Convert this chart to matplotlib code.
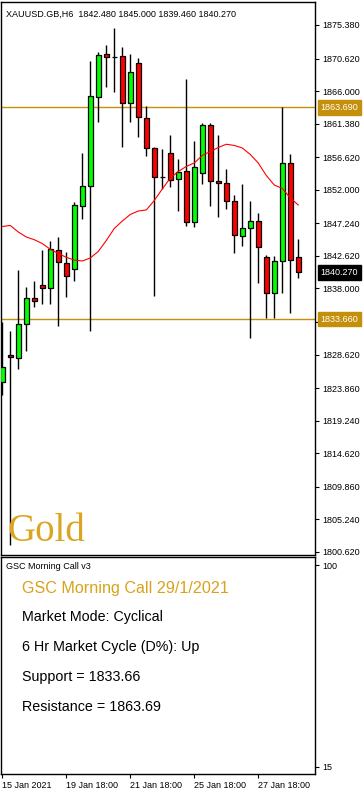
import matplotlib
matplotlib.use('Agg')
import matplotlib.pyplot as plt
import matplotlib.transforms as mtransforms

# ---------------- data ----------------
opens = [1824.69, 1828.57, 1828.10, 1832.92, 1836.61, 1838.45, 1838.03, 1843.50, 1841.66, 1840.72,
         1849.75, 1852.50, 1865.21, 1871.27, 1870.88, 1870.94, 1864.27, 1869.95, 1862.14, 1857.89,
         1853.86, 1857.18, 1853.49, 1854.67, 1847.39, 1854.34, 1861.15, 1853.21, 1852.92, 1850.37,
         1845.40, 1846.54, 1847.53, 1842.42, 1837.32, 1841.86, 1855.76, 1842.48]
highs = [1833.29, 1831.97, 1840.62, 1838.25, 1839.06, 1843.46, 1844.74, 1845.26, 1843.13, 1850.27,
         1857.18, 1870.27, 1871.51, 1872.54, 1874.95, 1872.22, 1871.22, 1870.66, 1863.93, 1858.12,
         1857.79, 1859.78, 1856.37, 1867.72, 1858.92, 1861.52, 1861.52, 1859.78, 1854.95, 1851.26,
         1852.82, 1850.41, 1848.67, 1842.71, 1842.57, 1863.79, 1857.04, 1845.00]
lows = [1822.89, 1801.61, 1826.54, 1829.17, 1835.42, 1835.76, 1835.80, 1832.72, 1836.75, 1839.11,
        1847.86, 1832.01, 1861.66, 1866.63, 1865.92, 1858.12, 1861.66, 1859.53, 1856.84, 1836.98,
        1852.07, 1852.44, 1849.04, 1846.91, 1846.77, 1852.82, 1849.75, 1848.18, 1849.23, 1842.99,
        1844.07, 1830.93, 1838.82, 1833.86, 1833.86, 1837.32, 1834.57, 1839.46]
closes = [1826.82, 1828.24, 1832.96, 1836.61, 1836.23, 1838.07, 1843.65, 1841.72, 1839.82, 1849.80,
          1852.50, 1865.27, 1871.12, 1870.80, 1870.88, 1864.27, 1868.67, 1862.29, 1857.89, 1853.77,
          1853.86, 1853.39, 1854.57, 1847.39, 1855.19, 1861.15, 1853.21, 1852.92, 1850.37, 1845.55,
          1846.54, 1847.53, 1843.84, 1837.32, 1841.86, 1855.76, 1842.00, 1840.27]
ma = [1846.79, 1846.94, 1846.01, 1845.30, 1844.92, 1844.37, 1843.56, 1842.96, 1842.42, 1842.03,
      1841.90, 1842.33, 1843.25, 1844.81, 1846.51, 1847.57, 1848.50, 1848.99, 1849.14, 1850.48,
      1852.11, 1853.67, 1854.60, 1855.31, 1855.80, 1856.87, 1857.43, 1858.00, 1858.46, 1858.29,
      1857.93, 1857.01, 1855.80, 1854.03, 1852.68, 1852.19, 1850.84, 1849.84]

support = 1833.66
resistance = 1863.69
last_price = 1840.27

price_ticks = [1875.380, 1870.620, 1866.000, 1861.380, 1856.620, 1852.000, 1847.240, 1842.620,
               1838.000, 1833.240, 1828.620, 1823.860, 1819.240, 1814.620, 1809.860, 1805.240, 1800.620]
hidden_tick = 1833.240   # covered by the support price box in the reference
date_tick_bars = [0, 8, 16, 24, 32]
date_labels = ['15 Jan 2021', '19 Jan 18:00', '21 Jan 18:00', '25 Jan 18:00', '27 Jan 18:00']
osc_ticks = [100, 15]

title = 'XAUUSD.GB,H6  1842.480 1845.000 1839.460 1840.270'
info_title = 'GSC Morning Call 29/1/2021'
info_lines = ['Market Mode: Cyclical', '6 Hr Market Cycle (D%): Up',
              'Support = 1833.66', 'Resistance = 1863.69']

# ---------------- style ----------------
SMALL = 6.5
SANS = ['Liberation Sans', 'DejaVu Sans']
GOLDLINE = '#C4900C'
plt.rcParams['font.family'] = SANS

W, H = 364, 792
fig = plt.figure(figsize=(W / 100, H / 100), dpi=100)
ax = fig.add_axes([1 / W, (H - 555) / H, 314 / W, 553 / H])
ax2 = fig.add_axes([1 / W, (H - 774) / H, 314 / W, 217 / H], sharex=ax)

x = list(range(len(opens)))
body_h = [c - o for o, c in zip(opens, closes)]
colors = ['#00FF00' if c > o else ('#FF0000' if c < o else 'black') for o, c in zip(opens, closes)]

ax.vlines(x, lows, highs, color='black', lw=1.0, zorder=2)
ax.bar(x, body_h, bottom=opens, width=0.6, color=colors, edgecolor='black', linewidth=0.9, zorder=3)
ax.plot(x, ma, color='#FF0000', lw=0.8, zorder=4)

ax.axhline(resistance, color=GOLDLINE, lw=1.0, zorder=1)
ax.axhline(support, color=GOLDLINE, lw=1.0, zorder=1)

ax.set_xlim(-0.1625, 39.09)
ax.set_ylim(1800.19, 1878.64)

ax.yaxis.tick_right()
ax.set_yticks(price_ticks)
ax.set_yticklabels(['' if v == hidden_tick else '%.3f' % v for v in price_ticks])
ax.tick_params(axis='y', direction='out', length=3, width=0.8, pad=2, labelsize=SMALL, colors='black')
ax.tick_params(axis='x', bottom=False, labelbottom=False)
for s in ax.spines.values():
    s.set_linewidth(1.0)
    s.set_color('black')

trans = mtransforms.blended_transform_factory(ax.transAxes, ax.transData)
for val, fc in [(resistance, GOLDLINE), (support, GOLDLINE), (last_price, 'black')]:
    ax.text(1.018, val, '%.3f' % val, transform=trans, ha='left', va='center', color='white',
            fontsize=SMALL, clip_on=False, zorder=10,
            bbox=dict(boxstyle='square,pad=0.3', fc=fc, ec=fc))

ax.text(0.016, 0.985, title, transform=ax.transAxes, ha='left', va='top', fontsize=SMALL, color='black')
ax.text(0.019, 0.025, 'Gold', transform=ax.transAxes, ha='left', va='baseline', fontsize=28,
        color='#DAA520', family=['Liberation Serif', 'DejaVu Serif'])

# ---------------- lower panel ----------------
ax2.set_ylim(12.05, 103.4)
ax2.yaxis.tick_right()
ax2.set_yticks(osc_ticks)
ax2.set_yticklabels([str(v) for v in osc_ticks])
ax2.tick_params(axis='y', direction='out', length=3, width=0.8, pad=2, labelsize=SMALL)
ax2.set_xticks(date_tick_bars)
ax2.set_xticklabels(date_labels, ha='left')
ax2.tick_params(axis='x', direction='out', length=3, width=0.8, pad=2, labelsize=SMALL)
for lbl in ax2.get_xticklabels():
    lbl.set_horizontalalignment('left')
for s in ax2.spines.values():
    s.set_linewidth(1.0)
    s.set_color('black')

ax2.text(0.016, 0.956, 'GSC Morning Call v3', transform=ax2.transAxes, ha='left', va='center',
         fontsize=SMALL)
ax2.text(0.067, 0.857, info_title, transform=ax2.transAxes, ha='left', va='center',
         fontsize=11.6, color='#D9A21B')
ys = [0.7235, 0.583, 0.447, 0.309]
for yv, t in zip(ys, info_lines):
    ax2.text(0.067, yv, t, transform=ax2.transAxes, ha='left', va='center', fontsize=10.3, color='black')

fig.savefig('out.png', dpi=100)
